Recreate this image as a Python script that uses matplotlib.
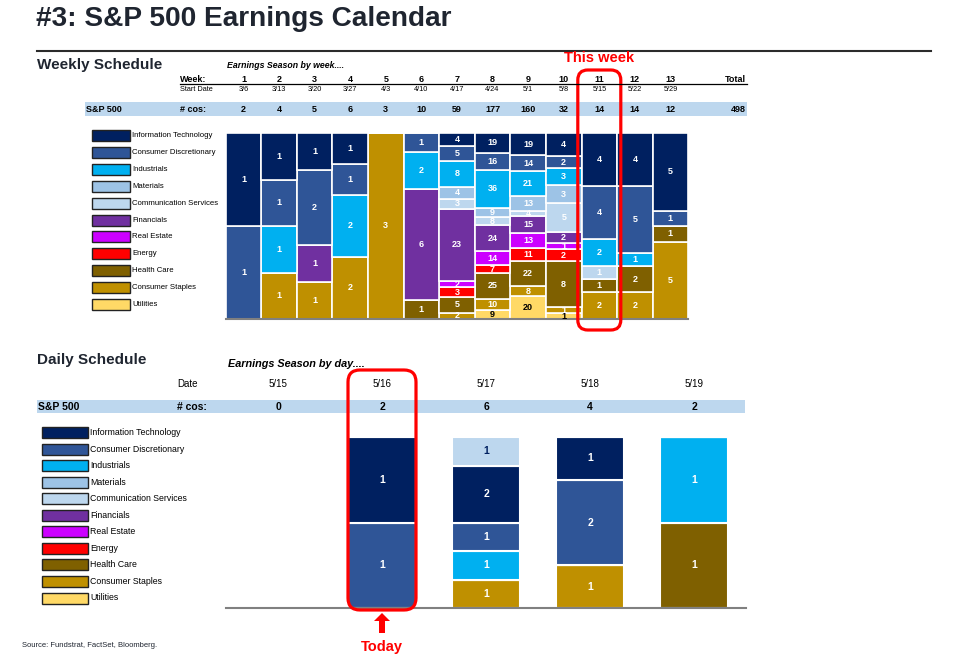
import matplotlib
matplotlib.use('Agg')
import matplotlib.pyplot as plt
from matplotlib.patches import Rectangle, FancyBboxPatch, FancyArrow
import numpy as np

plt.rcParams['font.family'] = ['Liberation Sans', 'DejaVu Sans']

# ---- data ----
sectors = ['Information Technology', 'Consumer Discretionary', 'Industrials', 'Materials',
           'Communication Services', 'Financials', 'Real Estate', 'Energy', 'Health Care',
           'Consumer Staples', 'Utilities']
sector_colors = ['#002060', '#2F5597', '#00B0F0', '#9DC3E6', '#BDD7EE', '#7030A0',
                 '#CC00FF', '#FF0000', '#7F6000', '#BF9000', '#FFD966']

weeks = ['1', '2', '3', '4', '5', '6', '7', '8', '9', '10', '11', '12', '13']
start_dates = ['3/6', '3/13', '3/20', '3/27', '4/3', '4/10', '4/17', '4/24', '5/1', '5/8',
               '5/15', '5/22', '5/29']

wk_it     = [1, 1, 1, 1, 0, 0, 4, 19, 19, 4, 4, 4, 5]
wk_cd     = [1, 1, 2, 1, 0, 1, 5, 16, 14, 2, 4, 5, 1]
wk_ind    = [0, 1, 0, 2, 0, 2, 8, 36, 21, 3, 2, 1, 0]
wk_mat    = [0, 0, 0, 0, 0, 0, 4, 9, 13, 3, 0, 0, 0]
wk_comm   = [0, 0, 0, 0, 0, 0, 3, 8, 4, 5, 1, 0, 0]
wk_fin    = [0, 0, 1, 0, 0, 6, 23, 24, 15, 2, 0, 0, 0]
wk_re     = [0, 0, 0, 0, 0, 0, 2, 14, 13, 1, 0, 0, 0]
wk_energy = [0, 0, 0, 0, 0, 0, 3, 7, 11, 2, 0, 0, 0]
wk_hc     = [0, 0, 0, 0, 0, 1, 5, 25, 22, 8, 1, 2, 1]
wk_cs     = [0, 1, 1, 2, 3, 0, 2, 10, 8, 1, 2, 2, 5]
wk_util   = [0, 0, 0, 0, 0, 0, 0, 9, 20, 1, 0, 0, 0]
weekly = [wk_it, wk_cd, wk_ind, wk_mat, wk_comm, wk_fin, wk_re, wk_energy, wk_hc, wk_cs, wk_util]

days = ['5/15', '5/16', '5/17', '5/18', '5/19']
dy_it   = [0, 1, 2, 1, 0]
dy_cd   = [0, 1, 1, 2, 0]
dy_ind  = [0, 0, 1, 0, 1]
dy_comm = [0, 0, 1, 0, 0]
dy_hc   = [0, 0, 0, 0, 1]
dy_cs   = [0, 0, 1, 1, 0]
# daily stack, bottom -> top (sector index, counts)
daily = [(9, dy_cs), (8, dy_hc), (2, dy_ind), (1, dy_cd), (0, dy_it), (4, dy_comm)]

this_week = 10
today = 1

W, H = 961, 659
fig = plt.figure(figsize=(W / 100, H / 100), dpi=100)

def px_axes(x0, y0, x1, y1):
    return fig.add_axes([x0 / W, 1 - y1 / H, (x1 - x0) / W, (y1 - y0) / H])

# ---- weekly bars ----
wk_x0, wk_dx = 243.5, 35.58
axw = px_axes(wk_x0 - wk_dx / 2, 133, wk_x0 + wk_dx * 12.5, 319)
wk_tot = np.array(weekly).sum(axis=0)
x = np.arange(len(weeks))
bottom = np.zeros(len(weeks))
for k in range(len(sectors) - 1, -1, -1):
    frac = np.array(weekly[k]) / wk_tot
    axw.bar(x, frac, 1.0, bottom=bottom, color=sector_colors[k], edgecolor='white', linewidth=1.2)
    for i in range(len(weeks)):
        if weekly[k][i] > 0:
            tc = 'black' if sectors[k] == 'Utilities' else 'white'
            axw.text(i, bottom[i] + frac[i] / 2, str(weekly[k][i]), ha='center', va='center',
                     color=tc, fontsize=6.5, fontweight='bold')
    bottom += frac
axw.set_xlim(-0.5, len(weeks) - 0.5)
axw.set_ylim(0, 1)
axw.set_xticks([]); axw.set_yticks([])
for s in ['top', 'left', 'right']:
    axw.spines[s].set_visible(False)
axw.spines['bottom'].set_color('#808080')
axw.spines['bottom'].set_linewidth(1.5)

# ---- daily bars ----
dy_x0, dy_dx = 278, 104
axd = px_axes(dy_x0 - dy_dx / 2, 437, dy_x0 + dy_dx * 4.5, 608)
dy_tot = np.zeros(len(days))
for k, vals in daily:
    dy_tot += np.array(vals)
xd = np.arange(len(days))
bottom = np.zeros(len(days))
for k, vals in daily:
    v = np.array(vals, dtype=float)
    frac = np.divide(v, dy_tot, out=np.zeros_like(v), where=dy_tot > 0)
    axd.bar(xd, frac, 0.65, bottom=bottom, color=sector_colors[k], edgecolor='white', linewidth=1.5)
    for i in range(len(days)):
        if vals[i] > 0:
            tc = '#002060' if sectors[k] == 'Communication Services' else 'white'
            axd.text(i, bottom[i] + frac[i] / 2, str(vals[i]), ha='center', va='center',
                     color=tc, fontsize=7.5, fontweight='bold')
    bottom += frac
axd.set_xlim(-0.5, len(days) - 0.5)
axd.set_ylim(0, 1)
axd.set_xticks([]); axd.set_yticks([])
for s in ['top', 'left', 'right']:
    axd.spines[s].set_visible(False)
axd.spines['bottom'].set_color('#808080')
axd.spines['bottom'].set_linewidth(1.5)

# ---- overlay in pixel coordinates for text / tables / callouts ----
ov = fig.add_axes([0, 0, 1, 1])
ov.set_xlim(0, W)
ov.set_ylim(H, 0)
ov.axis('off')
dark = '#1f2530'

ov.text(36, 19, '#3: S&P 500 Earnings Calendar', fontsize=20.2, fontweight='bold', color=dark, va='center')
ov.plot([37, 931], [50.5, 50.5], color='#2b2b2b', lw=1.5)

# weekly header table
ov.text(37, 65, 'Weekly Schedule', fontsize=11, fontweight='bold', color=dark, va='center')
ov.text(227, 65, 'Earnings Season by week....', fontsize=6.3, fontweight='bold', style='italic', va='center')
ov.text(180, 79, 'Week:', fontsize=6.5, fontweight='bold', va='center')
ov.text(180, 89.5, 'Start Date', fontsize=5.3, va='center')
ov.plot([180, 747], [84.3, 84.3], color='black', lw=0.9)
ov.add_patch(Rectangle((85, 102), 662, 14, color='#BDD7EE', lw=0))
ov.text(86, 109, 'S&P 500', fontsize=6.5, fontweight='bold', va='center')
ov.text(180, 109, '# cos:', fontsize=6.5, fontweight='bold', va='center')
for i in range(len(weeks)):
    cx = wk_x0 + wk_dx * i
    ov.text(cx, 79, weeks[i], fontsize=6.5, fontweight='bold', ha='center', va='center')
    ov.text(cx, 89.5, start_dates[i], fontsize=5.3, ha='center', va='center')
    ov.text(cx, 109, str(int(wk_tot[i])), fontsize=6.5, fontweight='bold', ha='center', va='center')
ov.text(746, 79, 'Total', fontsize=6.5, fontweight='bold', ha='right', va='center')
ov.text(746, 109, str(int(wk_tot.sum())), fontsize=6.5, fontweight='bold', ha='right', va='center')

# weekly legend
for k in range(len(sectors)):
    cy = 135.5 + 16.9 * k
    ov.add_patch(Rectangle((92, cy - 5.5), 38, 11, facecolor=sector_colors[k], edgecolor='#222222', lw=1))
    ov.text(132, cy, sectors[k], fontsize=5.6, va='center', color='black')

# this week callout
cxw = wk_x0 + wk_dx * this_week
ov.add_patch(FancyBboxPatch((cxw - 21.5, 70), 43, 260, boxstyle='round,pad=0,rounding_size=10',
                            facecolor='none', edgecolor='#FF0000', lw=2.3))
ov.text(cxw, 58.5, 'This week', fontsize=10.5, fontweight='bold', color='#FF0000', ha='center', va='center')

# daily header table
ov.text(37, 360, 'Daily Schedule', fontsize=11, fontweight='bold', color=dark, va='center')
ov.text(228, 364, 'Earnings Season by day....', fontsize=7.8, fontweight='bold', style='italic', va='center')
ov.text(177, 384, 'Date', fontsize=7, va='center')
ov.add_patch(Rectangle((37, 400), 708, 13, color='#BDD7EE', lw=0))
ov.text(38, 406.5, 'S&P 500', fontsize=7.5, fontweight='bold', va='center')
ov.text(177, 406.5, '# cos:', fontsize=7.5, fontweight='bold', va='center')
for i in range(len(days)):
    cx = dy_x0 + dy_dx * i
    ov.text(cx, 384, days[i], fontsize=7, ha='center', va='center')
    ov.text(cx, 406.5, str(int(dy_tot[i])), fontsize=7.5, fontweight='bold', ha='center', va='center')

# daily legend
for k in range(len(sectors)):
    cy = 432.5 + 16.55 * k
    ov.add_patch(Rectangle((42, cy - 5.5), 46, 11, facecolor=sector_colors[k], edgecolor='#222222', lw=1))
    ov.text(90, cy, sectors[k], fontsize=6.3, va='center', color='black')

# today callout
cxd = dy_x0 + dy_dx * today
ov.add_patch(FancyBboxPatch((cxd - 34, 370), 68, 240, boxstyle='round,pad=0,rounding_size=12',
                            facecolor='none', edgecolor='#FF0000', lw=2.3))
ov.add_patch(FancyArrow(cxd, 633, 0, -20, width=6, head_width=16, head_length=8,
                        length_includes_head=True, color='#FF0000', lw=0))
ov.text(cxd, 647.5, 'Today', fontsize=10.5, fontweight='bold', color='#FF0000', ha='center', va='center')

ov.text(22, 645.5, 'Source: Fundstrat, FactSet, Bloomberg.', fontsize=5.5, color=dark, va='center')

fig.savefig('out.png', dpi=100)
